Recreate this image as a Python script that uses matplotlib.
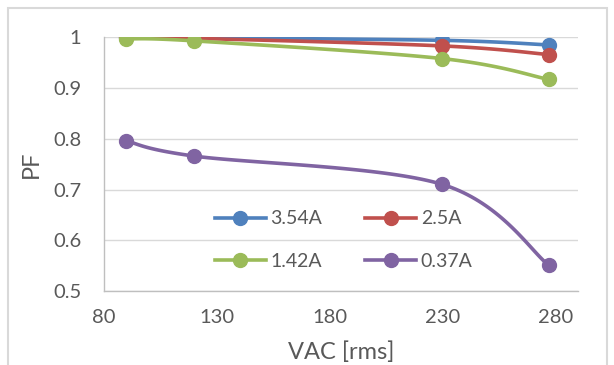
import matplotlib.pyplot as plt
import numpy as np
from matplotlib.patches import Rectangle

plt.rcParams['font.family'] = ['Lato', 'DejaVu Sans']

vac = [90, 120, 230, 277]
pf_354 = [1.000, 0.999, 0.994, 0.985]
pf_25 = [1.000, 0.998, 0.983, 0.966]
pf_142 = [0.997, 0.993, 0.958, 0.917]
pf_037 = [0.796, 0.766, 0.710, 0.551]

labels = ['3.54A', '2.5A', '1.42A', '0.37A']
colors = ['#4f81bd', '#c0504d', '#9bbb59', '#8064a2']
x_ticks = [80, 130, 180, 230, 280]
y_ticks = [0.5, 0.6, 0.7, 0.8, 0.9, 1.0]
y_tick_labels = ['0.5', '0.6', '0.7', '0.8', '0.9', '1']


def smooth(xs, ys, n=40):
    # spreadsheet-style smoothed line: cubic bezier through each point,
    # control points taken from the neighbouring points
    p = np.column_stack([xs, ys]).astype(float)
    out = []
    for i in range(len(p) - 1):
        prev = p[i - 1] if i > 0 else p[i]
        nxt = p[i + 2] if i + 2 < len(p) else p[i + 1]
        c1 = p[i] + (p[i + 1] - prev) / 6
        c2 = p[i + 1] - (nxt - p[i]) / 6
        t = np.linspace(0, 1, n)[:, None]
        seg = ((1 - t) ** 3 * p[i] + 3 * (1 - t) ** 2 * t * c1
               + 3 * (1 - t) * t ** 2 * c2 + t ** 3 * p[i + 1])
        out.append(seg if i == 0 else seg[1:])
    out = np.vstack(out)
    return out[:, 0], out[:, 1]


fig = plt.figure(figsize=(6.14, 3.65), dpi=100)
ax = fig.add_axes([0.1686, 0.2027, 0.7728, 0.6951])

fig.patches.append(Rectangle((8 / 614, -0.05), 599 / 614, 1 - 8 / 365 + 0.05,
                             transform=fig.transFigure, fill=False,
                             edgecolor='#d9d9d9', linewidth=1.5))

handles = []
for series, label, color in zip([pf_354, pf_25, pf_142, pf_037], labels, colors):
    sx, sy = smooth(vac, series)
    ax.plot(sx, sy, color=color, linewidth=2.6, solid_capstyle='round')
    ax.plot(vac, series, linestyle='none', marker='o', markersize=10,
            color=color)
    h, = ax.plot([], [], color=color, linewidth=2.6, marker='o',
                 markersize=10, label=label)
    handles.append(h)

ax.set_xlim(80, 290)
ax.set_ylim(0.5, 1.0)
ax.set_xticks(x_ticks)
ax.set_yticks(y_ticks)
ax.set_yticklabels(y_tick_labels)
ax.tick_params(length=0, labelsize=14.5, labelcolor='#595959')
ax.tick_params(axis='y', pad=16)
ax.tick_params(axis='x', pad=13)

ax.grid(axis='y', color='#d9d9d9', linewidth=1)
ax.set_axisbelow(True)
for side in ['top', 'right']:
    ax.spines[side].set_visible(False)
for side in ['left', 'bottom']:
    ax.spines[side].set_color('#bfbfbf')
    ax.spines[side].set_linewidth(1)

ax.set_xlabel('VAC [rms]', fontsize=17, color='#595959')
ax.set_ylabel('PF', fontsize=17, color='#595959')
ax.xaxis.set_label_coords(0.5, -0.2)
ax.yaxis.set_label_coords(-0.13, 0.5)

# legend fills column by column, so order the handles to read row by row
order = [0, 2, 1, 3]
ax.legend([handles[i] for i in order], [labels[i] for i in order],
          ncol=2, loc='center', bbox_to_anchor=(0.56, 0.3425),
          bbox_transform=fig.transFigure, frameon=False, fontsize=14,
          handlelength=2.6, handletextpad=0.25, columnspacing=2.2,
          labelspacing=1.3, labelcolor='#595959')

fig.savefig('out.png', dpi=100)
